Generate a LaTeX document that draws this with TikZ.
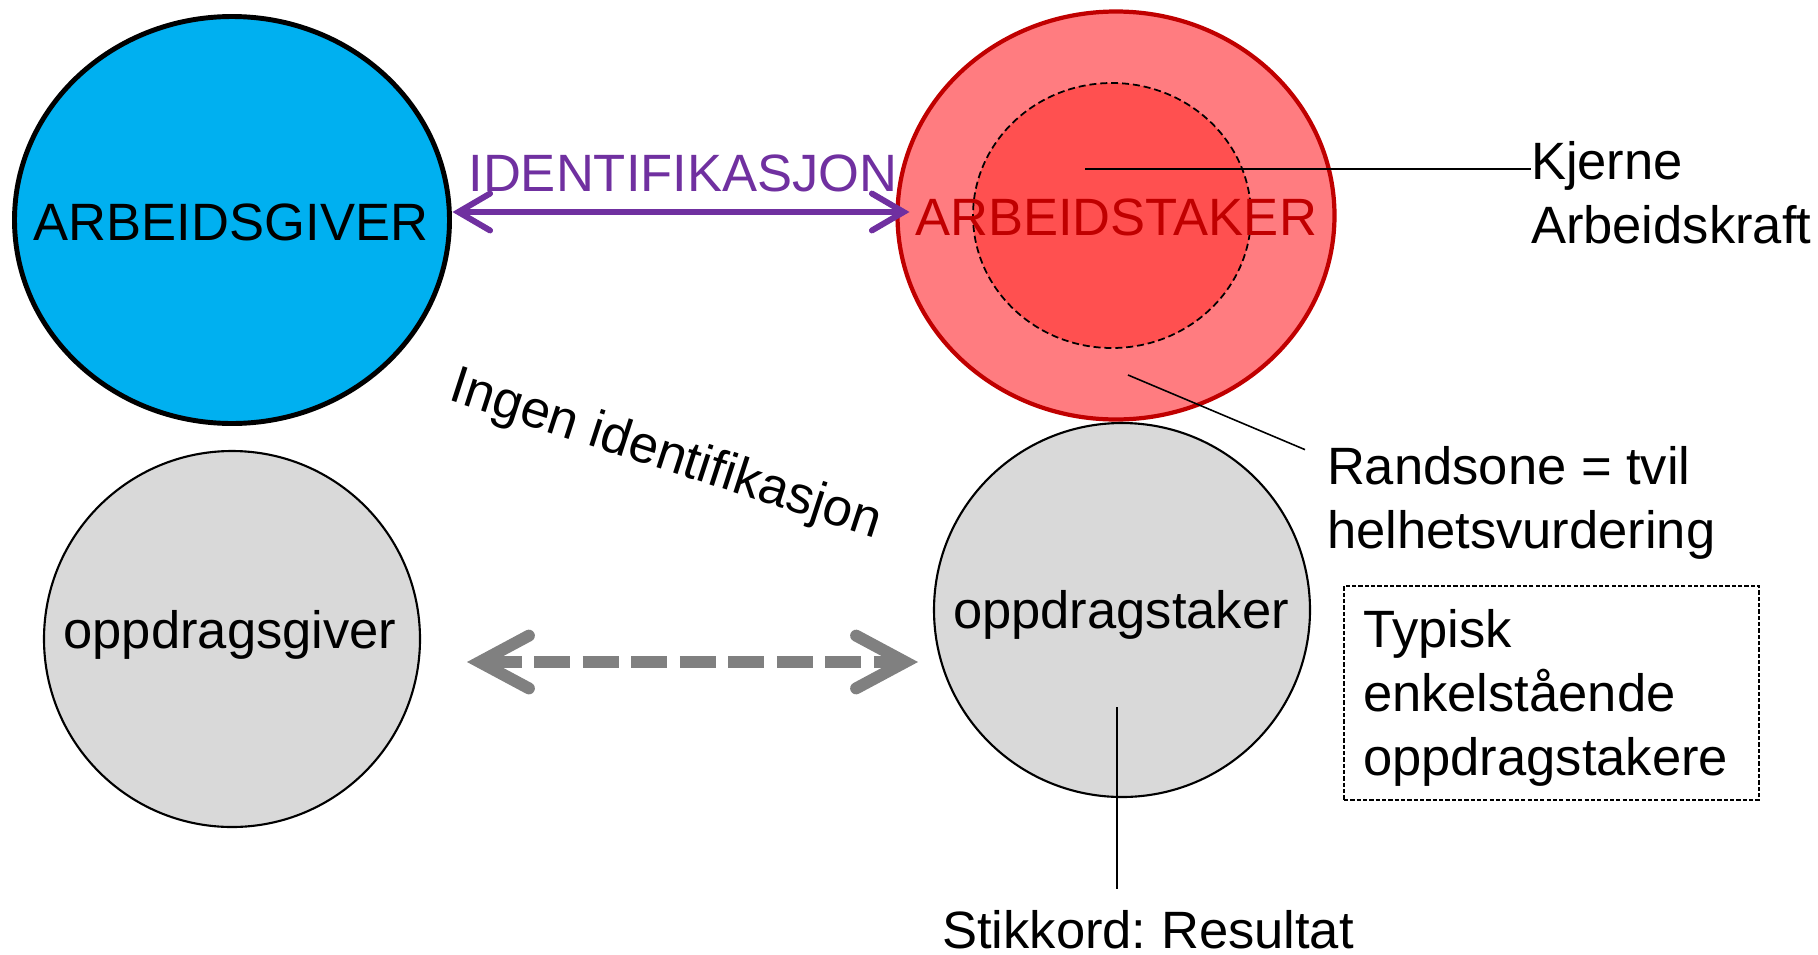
\documentclass[tikz,border=0pt]{standalone}
\usepackage{fontspec}
\setmainfont{Liberation Sans}
\usetikzlibrary{shapes.geometric,arrows.meta,calc}
\newdimen\pxu \pxu=0.01cm
\definecolor{agblue}{RGB}{0,176,240}
\definecolor{asred}{RGB}{192,0,0}
\definecolor{asfill}{RGB}{255,124,128}
\definecolor{corefill}{RGB}{255,80,80}
\definecolor{idpurple}{RGB}{112,48,160}
\definecolor{opgray}{RGB}{217,217,217}
\definecolor{arrgray}{RGB}{128,128,128}
\frenchspacing
\begin{document}
\begin{tikzpicture}[x=0.01cm,y=-0.01cm,
  every node/.style={inner sep=0pt, outer sep=0pt, font=\fontsize{14.94pt}{18pt}\selectfont},
  ell/.style={ellipse, inner sep=0pt},
  agstyle/.style={ell, draw=black, line width=1.4pt, fill=agblue, minimum width=435\pxu, minimum height=407\pxu},
  asstyle/.style={ell, draw=asred, line width=1.2pt, fill=asfill, minimum width=437\pxu, minimum height=408\pxu},
  corestyle/.style={ell, draw=black, line width=0.5pt, dash pattern=on 2pt off 1.1pt, fill=corefill, minimum width=278\pxu, minimum height=265\pxu},
  opstyle/.style={ell, draw=black, line width=0.6pt, fill=opgray, minimum width=376\pxu, minimum height=376\pxu},
  lbl/.style={anchor=base},
  idtip/.style={Straight Barb[length=9pt, width=10.5pt, line join=miter, line cap=round]},
  graytip/.style={Straight Barb[length=14pt, width=15pt, line join=miter, line cap=round]},
  idarrow/.style={draw=idpurple, line width=1.7pt, {Straight Barb[length=9pt, width=10.5pt, line join=miter, line cap=round]}-{Straight Barb[length=9pt, width=10.5pt, line join=miter, line cap=round]}},
  grayarrow/.style={draw=arrgray, line width=3.4pt, dash pattern=on 10.2pt off 3.6pt, {Straight Barb[length=14pt, width=15pt, line join=miter, line cap=round]}-{Straight Barb[length=14pt, width=15pt, line join=miter, line cap=round]}},
  thinline/.style={draw=black, line width=0.45pt},
  noteframe/.style={draw=black, line width=0.5pt, dash pattern=on 1.2pt off 0.6pt, minimum width=415\pxu, minimum height=214\pxu, anchor=north west},
  multi/.style={anchor=base west, align=left}
]
\useasboundingbox (0,0) rectangle (1818,954);

% top row
\node[agstyle] (ag) at (232,220) {};
\node[lbl] (agtxt) at (231,240) {ARBEIDSGIVER};
\node[asstyle] (as) at (1116,215.5) {};
\node[corestyle] (core) at (1112,215.5) {};
\node[lbl, text=asred] (astxt) at (1116,235) {ARBEIDSTAKER};

% bottom row
\node[opstyle] (og) at (232,639) {};
\node[lbl] (ogtxt) at (230,648) {oppdragsgiver};
\node[opstyle, minimum height=374\pxu] (ot) at (1122,610) {};
\node[lbl] (ottxt) at (1121,628) {oppdragstaker};

% labels
\node[lbl, text=idpurple] (idl) at (683,191) {IDENTIFIKASJON};
\node[lbl, rotate=-18] (ingen) at (661.5,469) {Ingen identifikasjon};
\node[multi] (kj) at (1531,243) {Kjerne\\Arbeidskraft};
\node[multi] (rs) at (1327,548) {Randsone = tvil\\helhetsvurdering};
\node[noteframe] (box) at (1344,586) {};
\node[multi, font=\fontsize{14.94pt}{18.2pt}\selectfont] (boxtxt) at (1363,775) {Typisk\\enkelstående\\oppdragstakere};
\node[lbl] (stik) at (1148,948) {Stikkord: Resultat};

% connectors
\draw[idarrow] ($(ag.east)+(3,-8)$) -- ($(as.west)+(12,-3.5)$);
\coordinate (gl) at (467,662);
\coordinate (gr) at (918,662);
\draw[grayarrow] (gl) -- (gr);

\coordinate (kjp) at (1085,169);
\draw[thinline] (kjp) -- (kjp -| kj.west);
\coordinate (rsp) at (1128,375);
\draw[thinline] (rsp) -- ($(rs.north west)+(-22,3)$);
\coordinate (otp) at (1117,707);
\draw[thinline, shorten >=21\pxu] (otp) -- (otp |- stik.north);
\end{tikzpicture}
\end{document}
